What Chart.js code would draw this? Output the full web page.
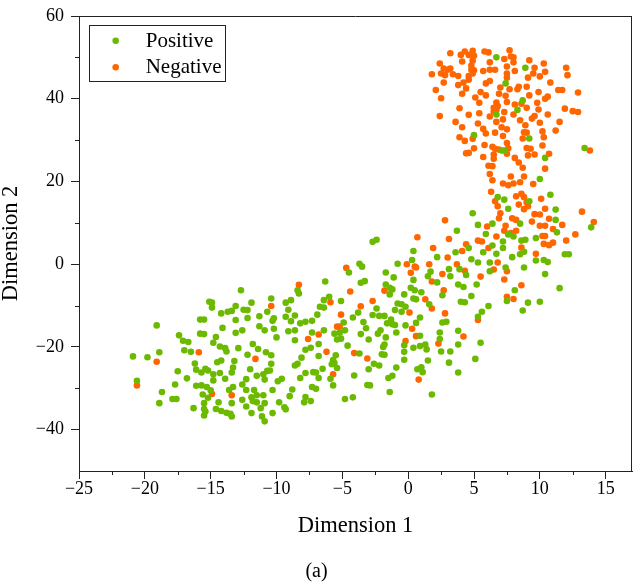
<!DOCTYPE html>
<html>
<head>
<meta charset="utf-8">
<script src="https://cdn.jsdelivr.net/npm/chart.js@4.4.1/dist/chart.umd.min.js"></script>
<style>
  html, body { margin: 0; padding: 0; background: #fff; }
  #wrap { width: 636px; height: 584px; }
</style>
</head>
<body>
<div id="wrap"><canvas id="chart"></canvas></div>
<script>
const seriesNames = ['Positive', 'Negative'];
const seriesColors = ['rgb(108,186,0)', 'rgb(255,102,0)'];
const xTicks = [-25, -20, -15, -10, -5, 0, 5, 10, 15];
const yTicks = [-40, -20, 0, 20, 40, 60];
const xMinor = [-22.5, -17.5, -12.5, -7.5, -2.5, 2.5, 7.5, 12.5];
const yMinor = [-30, -10, 10, 30, 50];

// [Dimension 1, Dimension 2]
const positive = [
  [-12.7,-6.3],[-15.1,-9.1],[-14.9,-9.3],[-14.9,-10.5],[-11.9,-9.3],[-13.1,-10.1],[-14.2,-11.9],[-13.7,-11.5],
  [-13.4,-11.3],[-12.5,-11.0],[-12.2,-11.1],[-10.7,-11.5],[-11.3,-12.6],[-12.2,-13.0],[-15.8,-13.4],[-15.5,-13.4],
  [-13.1,-13.5],[-19.1,-14.8],[-14.1,-15.4],[-11.3,-15.0],[-10.9,-16.0],[-15.8,-16.8],[-15.5,-16.9],[-13.1,-16.6],
  [-12.6,-16.0],[-17.4,-17.2],[-14.6,-17.6],[-17.1,-18.5],[-16.7,-18.8],[-14.8,-19.0],[-11.8,-19.3],[-14.3,-19.9],
  [-13.9,-20.3],[-13.8,-21.1],[-12.9,-20.3],[-11.4,-20.5],[-17.0,-20.8],[-16.5,-21.2],[-12.2,-21.9],[-10.8,-21.3],
  [-20.9,-22.3],[-19.8,-22.5],[-18.9,-21.3],[-14.5,-23.7],[-14.2,-23.3],[-13.2,-23.4],[-16.2,-24.0],[-13.3,-25.0],
  [-13.4,-26.2],[-15.4,-25.3],[-15.2,-25.7],[-16.1,-25.5],[-12.0,-25.4],[-10.7,-25.8],[-11.0,-26.6],[-17.5,-25.9],
  [-15.7,-26.2],[-14.8,-26.6],[-14.3,-26.3],[-11.5,-27.0],[-16.8,-27.6],[-13.9,-27.7],[-12.3,-27.8],[-20.6,-28.2],
  [-14.8,-28.1],[-10.9,-27.9],[-17.7,-29.1],[-16.1,-29.4],[-15.7,-29.3],[-15.3,-29.7],[-15.0,-30.5],[-12.6,-29.1],
  [-13.3,-29.7],[-13.6,-30.4],[-12.3,-30.4],[-11.7,-30.4],[-18.7,-30.9],[-11.5,-31.7],[-11.0,-31.7],[-15.6,-31.5],
  [-15.2,-32.3],[-17.9,-32.6],[-17.6,-32.6],[-12.6,-32.8],[-11.9,-32.2],[-11.8,-33.1],[-18.9,-33.6],[-14.4,-33.4],
  [-13.4,-33.6],[-11.5,-33.4],[-10.9,-33.6],[-15.5,-33.6],[-16.3,-34.8],[-15.5,-35.0],[-15.4,-35.6],[-14.6,-35.0],
  [-14.2,-35.5],[-12.3,-34.4],[-11.2,-34.8],[-13.8,-35.9],[-13.5,-36.2],[-13.4,-36.8],[-15.5,-36.6],[-11.9,-36.0],
  [-11.1,-36.8],[-10.9,-38.0],
  [-3.7,0.1],[-3.5,-0.6],[-4.5,-2.0],[-0.8,0.1],[-1.7,-2.0],[-1.1,-3.2],[-3.6,-4.5],[-3.3,-4.1],
  [-6.3,-4.2],[-1.7,-4.9],[-1.4,-5.7],[-1.2,-6.1],[-8.4,-6.3],[-8.3,-7.1],[-0.3,-7.3],[-1.4,-7.3],
  [-10.4,-8.3],[-9.3,-9.3],[-8.9,-8.7],[-6.4,-8.7],[-6.0,-7.9],[-5.1,-8.9],[-0.8,-9.5],[-0.5,-9.7],
  [-0.2,-10.3],[-9.1,-11.0],[-6.7,-10.3],[-6.4,-10.5],[-2.4,-10.7],[-1.0,-11.1],[-0.5,-11.5],[-10.2,-13.1],
  [-10.3,-13.7],[-9.3,-12.7],[-8.9,-13.8],[-8.6,-12.4],[-6.9,-12.2],[-3.8,-11.7],[-4.2,-12.9],[-2.7,-12.3],
  [-2.2,-12.5],[-1.8,-12.5],[-1.3,-13.4],[-8.2,-14.3],[-7.8,-13.9],[-7.3,-13.7],[-4.9,-14.1],[-3.4,-14.0],
  [-3.2,-15.5],[-1.6,-14.3],[-1.2,-14.5],[-1.0,-14.7],[-0.2,-14.8],[-10.2,-15.6],[-9.1,-16.2],[-8.6,-16.0],
  [-7.3,-16.5],[-6.4,-16.0],[-5.6,-16.8],[-5.2,-16.6],[-4.8,-16.0],[-3.6,-16.9],[-2.1,-16.0],[-2.3,-16.8],
  [-0.9,-16.5],[-10.0,-17.7],[-8.6,-18.4],[-5.4,-18.2],[-5.1,-18.0],[-3.0,-18.2],[-1.7,-17.7],[-6.8,-19.3],
  [-4.6,-19.7],[-1.8,-19.4],[-1.9,-20.0],[-0.3,-19.6],[-7.8,-20.7],[-7.4,-20.2],[-3.7,-21.6],[-2.0,-21.8],
  [-1.8,-21.9],[-0.3,-21.2],[-10.4,-22.0],[-8.1,-22.6],[-6.8,-22.2],[-5.5,-22.0],[-5.7,-23.2],[-0.3,-23.1],
  [-10.4,-24.1],[-8.6,-24.5],[-8.4,-24.1],[-5.8,-24.2],[-5.6,-23.9],[-5.4,-25.1],[-2.6,-24.1],[-2.2,-24.5],
  [-0.9,-25.0],[-7.8,-26.3],[-7.2,-26.1],[-7.0,-26.2],[-6.5,-25.3],[-3.0,-25.4],[-10.5,-25.7],[-4.1,-26.9],
  [-1.2,-27.0],[-1.5,-27.5],[-9.9,-28.3],[-9.6,-27.7],[-8.2,-27.5],[-6.8,-27.5],[-5.9,-27.7],[-5.7,-29.3],
  [-7.3,-29.7],[-7.0,-30.1],[-3.1,-29.2],[-2.9,-29.3],[-10.3,-30.4],[-8.8,-30.3],[-1.4,-30.9],[-9.0,-31.9],
  [-7.8,-32.1],[-7.9,-33.4],[-7.4,-33.1],[-4.8,-32.6],[-4.2,-32.2],[-9.8,-33.4],[-9.4,-34.6],[-9.3,-35.1],
  [-10.3,-36.0],[-2.7,5.4],[-2.4,5.9],
  [7.3,15.6],[9.2,15.2],[7.6,13.4],[11.2,13.2],[11.2,10.7],[13.9,8.9],[4.9,12.3],[5.3,9.5],
  [6.4,9.8],[8.5,9.8],[11.3,7.7],[3.7,8.1],[5.9,7.3],[7.6,7.2],[8.0,6.7],[9.7,6.3],
  [7.2,5.5],[8.6,5.7],[8.9,5.9],[0.4,3.2],[4.6,3.9],[3.6,2.9],[5.7,2.9],[6.4,4.5],
  [7.2,3.9],[8.8,3.0],[8.5,2.4],[6.7,2.5],[11.9,2.4],[12.2,2.4],[2.2,1.7],[4.8,1.2],
  [7.9,1.7],[9.7,0.9],[10.3,1.0],[10.6,0.5],[0.3,1.0],[5.3,0.4],[6.2,0.4],[3.9,-1.2],
  [3.1,-1.2],[3.2,-2.9],[7.4,-0.8],[6.2,-1.7],[8.8,-0.8],[10.4,-2.4],[1.7,-1.8],[1.5,-2.9],
  [4.4,-2.6],[0.4,-3.8],[2.2,-4.4],[3.8,-4.9],[4.2,-5.5],[5.2,-4.9],[11.5,-5.8],[0.2,-5.7],
  [0.5,-6.3],[1.0,-6.8],[2.6,-7.5],[8.1,-6.3],[4.8,-7.7],[7.5,-8.9],[0.4,-8.3],[0.6,-8.5],
  [4.0,-9.1],[4.3,-9.2],[9.1,-9.3],[10.0,-9.1],[8.7,-11.2],[1.6,-9.7],[6.1,-10.1],[5.6,-11.5],
  [0.9,-12.9],[5.3,-12.7],[0.6,-14.2],[2.6,-14.1],[2.9,-13.9],[2.4,-16.5],[3.8,-16.1],[0.9,-17.3],
  [2.4,-18.1],[5.5,-19.0],[0.4,-20.2],[0.9,-19.8],[1.3,-19.4],[1.4,-20.6],[3.8,-19.4],[2.5,-21.1],
  [3.2,-21.1],[5.1,-22.9],[1.5,-23.3],[3.1,-23.8],[0.7,-25.4],[1.0,-24.9],[1.1,-26.1],[3.8,-26.2],
  [1.8,-31.5],
  [6.7,50.0],[8.9,47.5],[7.4,43.7],[8.7,39.6],[8.3,37.3],[6.7,36.2],[5.0,31.2],[9.2,30.4],
  [7.1,27.5],[7.3,27.5],[13.4,28.1],[10.4,25.7],[10.0,20.6],[6.8,16.2],[10.8,16.8]
];

const negative = [
  [-15.9,-21.3],[-19.1,-23.6],[-11.6,-22.9],[-20.6,-29.3],[-14.9,-31.4],[-13.4,-31.7],
  [-4.7,-0.9],[-0.1,0.0],[-8.3,-5.0],[-1.8,-6.4],[-4.4,-6.6],[-5.9,-9.2],[-2.7,-8.9],[-10.4,-10.1],
  [-3.6,-10.2],[0.1,-11.7],[-5.1,-12.2],[-5.4,-15.1],[-5.2,-15.1],[-6.8,-17.0],[-7.6,-18.1],[-0.2,-18.6],
  [-6.2,-21.2],[-4.1,-21.5],[-3.1,-22.8],[-5.7,-26.6],
  [6.6,15.2],[6.8,14.0],[7.0,12.3],[6.9,11.1],[8.4,14.4],[8.8,13.3],[9.1,14.0],[9.0,14.9],
  [10.4,13.4],[9.6,12.1],[10.0,12.0],[10.7,11.0],[13.2,12.7],[14.1,10.2],[2.8,10.6],[6.0,9.1],
  [7.4,9.3],[7.9,11.1],[8.2,10.7],[9.4,10.3],[10.0,9.3],[10.4,9.3],[11.7,9.5],[11.0,8.5],
  [12.7,7.2],[6.7,6.7],[7.3,8.1],[7.8,7.5],[8.2,8.1],[10.2,6.8],[10.4,6.8],[0.7,6.5],
  [3.1,6.1],[5.3,5.7],[5.6,5.5],[12.0,5.7],[11.0,5.2],[10.7,4.6],[10.3,4.9],[1.9,3.9],
  [4.4,4.8],[4.1,3.2],[6.1,3.9],[8.6,4.0],[9.7,2.5],[3.0,1.6],[6.8,0.4],[1.6,0.0],
  [3.7,0.0],[4.3,-1.6],[6.5,-1.3],[7.5,-1.7],[0.5,-0.6],[0.6,-0.8],[0.2,-2.1],[2.6,-2.4],
  [5.5,-3.0],[1.8,-4.2],[7.3,-3.7],[8.6,-5.1],[2.7,-6.3],[7.5,-7.9],[8.0,-8.4],[1.3,-8.5],
  [1.8,-10.7],[2.8,-11.9],[5.3,-13.5],[0.3,-15.6],[4.2,-17.5],[0.6,-17.4],[2.3,-19.2],[0.8,-27.9],
  [3.2,51.0],[4.3,51.4],[4.9,51.6],[5.8,51.4],[6.1,51.2],[7.7,51.7],[4.0,50.6],[4.6,50.6],
  [5.0,50.4],[7.3,49.6],[7.8,50.2],[8.0,50.0],[9.2,49.3],[4.1,49.0],[4.9,49.2],[6.2,48.8],
  [8.0,48.8],[2.4,48.5],[3.2,47.3],[3.0,47.0],[2.7,47.3],[9.6,47.5],[10.3,48.5],[12.0,47.5],
  [4.8,48.0],[4.8,47.0],[5.0,46.9],[5.7,46.7],[6.2,47.0],[6.6,47.0],[7.5,47.8],[1.8,45.9],
  [2.5,46.1],[2.8,45.7],[3.4,45.9],[3.8,45.5],[4.6,45.5],[4.9,46.1],[7.5,46.1],[7.5,45.1],
  [8.1,46.7],[9.5,46.1],[10.0,45.4],[9.1,45.1],[10.4,46.5],[12.1,45.7],[2.7,43.9],[3.8,43.3],
  [4.2,43.9],[4.6,44.6],[4.4,42.5],[4.1,41.2],[5.9,43.7],[6.2,44.3],[5.5,41.6],[5.1,40.3],
  [5.9,40.8],[7.0,42.7],[6.9,41.2],[7.7,42.3],[8.3,42.3],[8.4,42.9],[9.0,42.9],[10.8,43.9],
  [9.9,41.6],[11.4,42.1],[11.7,42.1],[12.9,41.5],[2.1,42.1],[2.5,40.1],[6.7,39.1],[6.8,38.2],
  [6.5,37.8],[7.4,40.7],[7.5,39.2],[8.1,38.6],[8.6,38.8],[9.0,37.8],[9.2,40.8],[9.8,39.0],
  [10.4,40.0],[10.6,40.5],[3.9,37.7],[5.4,39.0],[6.5,36.9],[6.7,37.3],[7.3,36.8],[8.0,36.2],
  [9.9,37.4],[9.6,35.8],[9.4,35.2],[10.6,36.2],[11.9,37.6],[12.5,37.0],[12.9,36.8],[2.4,35.8],
  [4.6,36.1],[5.4,36.5],[6.2,35.7],[3.6,34.4],[4.1,33.1],[5.3,34.0],[6.7,34.4],[7.2,35.0],
  [7.1,33.1],[7.5,32.6],[8.5,34.8],[8.9,33.6],[10.0,34.2],[11.5,34.4],[11.2,32.3],[5.7,32.7],
  [5.9,31.6],[4.9,30.3],[3.9,30.7],[4.3,29.8],[6.6,31.8],[7.2,31.0],[8.8,31.9],[9.0,31.8],
  [8.7,30.4],[10.2,32.1],[10.3,30.7],[7.5,29.3],[5.8,28.8],[6.4,28.4],[6.6,27.9],[5.0,28.0],
  [4.4,26.8],[4.6,26.9],[6.9,27.7],[7.6,28.0],[9.0,28.1],[9.3,27.9],[10.2,28.7],[13.8,27.5],
  [5.7,25.9],[6.5,26.5],[6.5,25.5],[7.5,26.7],[8.1,25.7],[8.4,24.6],[9.1,26.3],[9.6,26.5],
  [10.7,26.7],[6.1,23.8],[6.4,23.7],[8.7,23.3],[10.4,23.1],[6.2,21.8],[7.8,21.2],[8.8,21.2],
  [6.4,20.3],[7.2,19.5],[7.6,19.1],[8.0,19.5],[8.5,19.8],[9.5,19.4],[6.3,17.5],[8.2,16.4],
  [8.6,17.0],[8.8,16.2],[10.1,15.8]
];

const axisColor = '#222';
const serif = '"Liberation Serif", "Times New Roman", serif';

// top/right frame, minor ticks and the boxed legend inside the plot
const framePlugin = {
  id: 'frame',
  afterDraw(chart) {
    const { ctx, chartArea: a, scales: { x, y } } = chart;
    ctx.save();
    ctx.strokeStyle = axisColor;
    ctx.lineWidth = 1;
    ctx.beginPath();
    ctx.moveTo(a.left, Math.round(a.top) + 0.5);
    ctx.lineTo(a.right, Math.round(a.top) + 0.5);
    ctx.moveTo(Math.round(a.right) - 0.5, a.top);
    ctx.lineTo(Math.round(a.right) - 0.5, a.bottom);
    xMinor.forEach(v => {
      const px = Math.round(x.getPixelForValue(v)) + 0.5;
      ctx.moveTo(px, a.bottom);
      ctx.lineTo(px, a.bottom + 4);
    });
    yMinor.forEach(v => {
      const py = Math.round(y.getPixelForValue(v)) + 0.5;
      ctx.moveTo(a.left, py);
      ctx.lineTo(a.left - 4, py);
    });
    ctx.stroke();

    // legend
    ctx.fillStyle = '#fff';
    ctx.fillRect(89.5, 25.5, 136, 56);
    ctx.strokeRect(89.5, 25.5, 136, 56);
    ctx.font = '21px ' + serif;
    ctx.textBaseline = 'middle';
    ctx.textAlign = 'left';
    chart.data.datasets.forEach((ds, i) => {
      const cy = 40.7 + i * 26.6;
      ctx.fillStyle = ds.backgroundColor;
      ctx.beginPath();
      ctx.arc(115.7, cy, 3.3, 0, Math.PI * 2);
      ctx.fill();
      ctx.fillStyle = '#000';
      ctx.fillText(ds.label, 145.7, cy + 0.5);
    });
    ctx.restore();
  }
};

const minusSign = v => String(v).replace('-', '\u2212');

new Chart(document.getElementById('chart'), {
  type: 'scatter',
  data: {
    datasets: [
      {
        label: seriesNames[0],
        data: positive.map(p => ({ x: p[0], y: p[1] })),
        backgroundColor: seriesColors[0],
        pointRadius: 3.3,
        borderWidth: 0
      },
      {
        label: seriesNames[1],
        data: negative.map(p => ({ x: p[0], y: p[1] })),
        backgroundColor: seriesColors[1],
        pointRadius: 3.3,
        borderWidth: 0
      }
    ]
  },
  options: {
    responsive: true,
    maintainAspectRatio: false,
    animation: false,
    layout: { padding: { top: 16, right: 3, left: 0, bottom: 0 } },
    plugins: {
      legend: { display: false },
      tooltip: { enabled: false },
      title: {
        display: true,
        text: '(a)',
        position: 'bottom',
        color: '#000',
        font: { family: serif, size: 20, weight: 'normal', lineHeight: 1 },
        padding: { top: 0, bottom: 2 }
      }
    },
    scales: {
      x: {
        type: 'linear',
        min: -25,
        max: 17,
        afterBuildTicks: s => { s.ticks = xTicks.map(v => ({ value: v })); },
        afterFit: s => { s.height = 91; },
        grid: { drawOnChartArea: false, drawTicks: true, tickLength: 8, color: axisColor },
        border: { display: true, color: axisColor, width: 1 },
        ticks: {
          autoSkip: false, maxRotation: 0, padding: 1, color: '#000',
          font: { family: serif, size: 18, lineHeight: 1 },
          callback: minusSign
        },
        title: {
          display: true, text: 'Dimension 1', color: '#000',
          font: { family: serif, size: 22.5, lineHeight: 1 },
          padding: { top: 0, bottom: 25 }
        }
      },
      y: {
        type: 'linear',
        min: -50,
        max: 60,
        afterBuildTicks: s => { s.ticks = yTicks.map(v => ({ value: v })); },
        afterFit: s => { s.width = 79; },
        grid: { drawOnChartArea: false, drawTicks: true, tickLength: 8, color: axisColor },
        border: { display: true, color: axisColor, width: 1 },
        ticks: {
          autoSkip: false, padding: 7, color: '#000',
          font: { family: serif, size: 18, lineHeight: 1 },
          callback: minusSign
        },
        title: {
          display: true, text: 'Dimension 2', color: '#000',
          font: { family: serif, size: 22.5, lineHeight: 1 },
          padding: { top: 0, bottom: 0 }
        }
      }
    }
  },
  plugins: [framePlugin]
});
</script>
</body>
</html>
